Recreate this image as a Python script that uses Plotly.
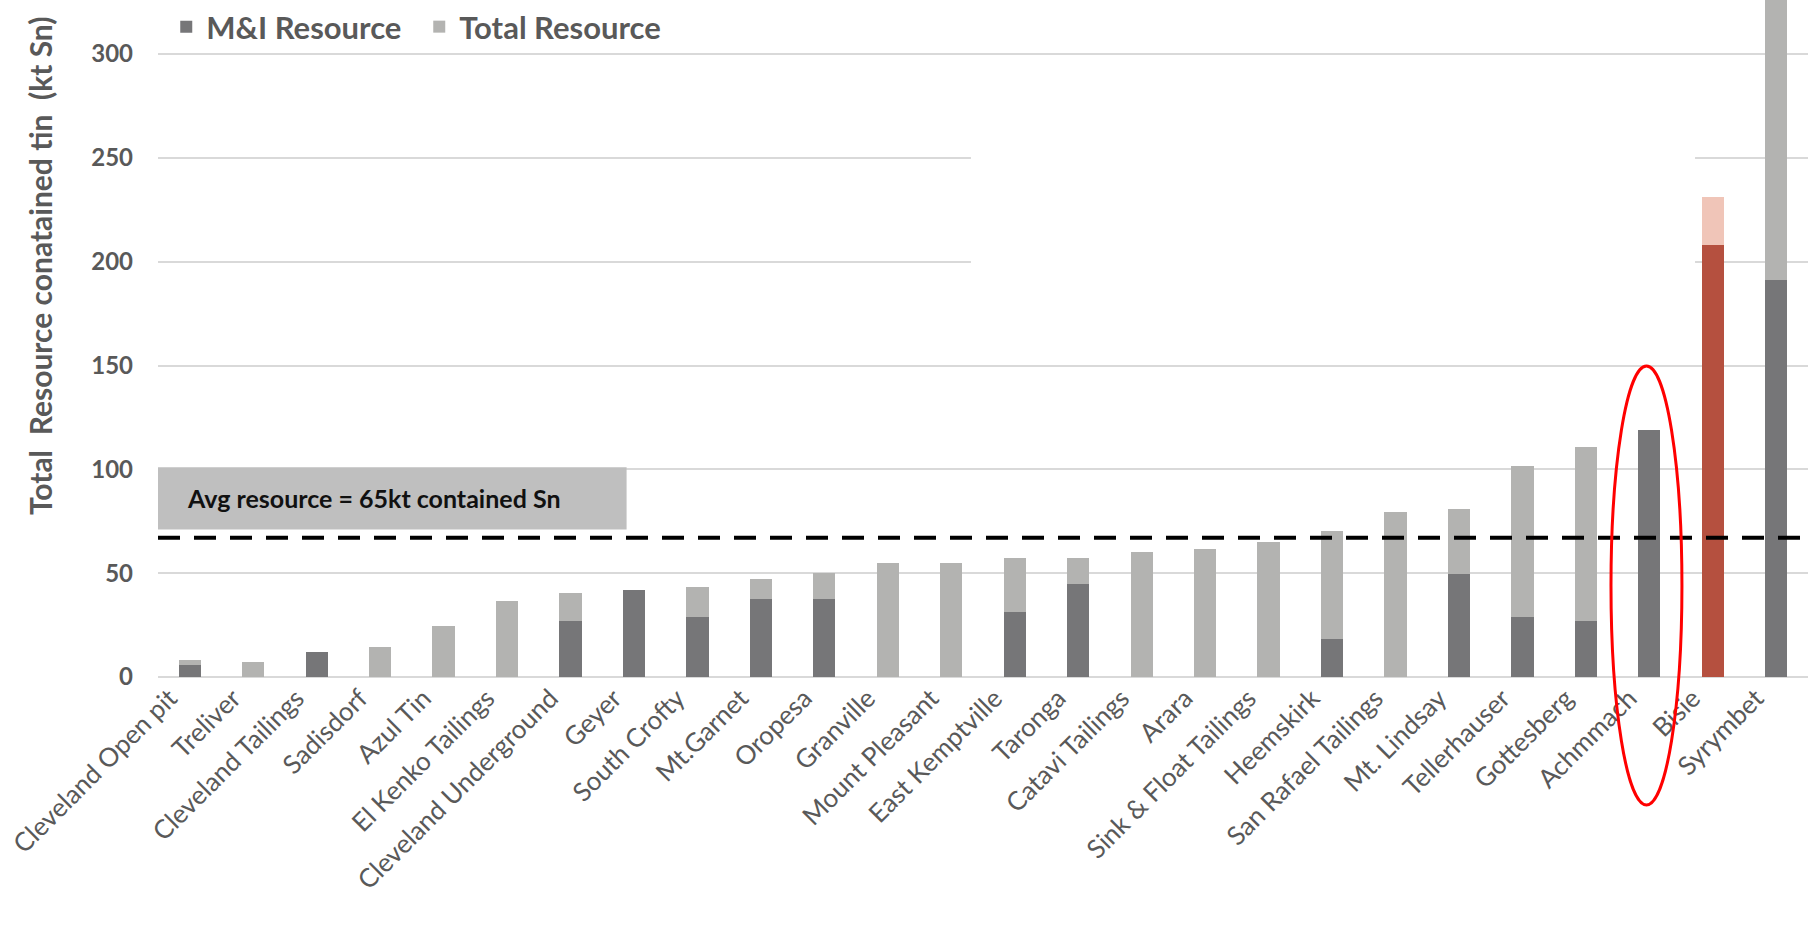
import plotly.graph_objects as go

projects = ["Cleveland Open pit", "Treliver", "Cleveland Tailings", "Sadisdorf", "Azul Tin",
            "El Kenko Tailings", "Cleveland Underground", "Geyer", "South Crofty", "Mt.Garnet",
            "Oropesa", "Granville", "Mount Pleasant", "East Kemptville", "Taronga",
            "Catavi Tailings", "Arara", "Sink & Float Tailings", "Heemskirk", "San Rafael Tailings",
            "Mt. Lindsay", "Tellerhauser", "Gottesberg", "Achmmach", "Bisie", "Syrymbet"]
mi_resource = [6, 0, 12, 0, 0, 0, 27, 42, 29, 37.5, 37.5, 0, 0, 31.5, 45,
               0, 0, 0, 18.5, 0, 49.5, 29, 27, 119, 208, 191]
total_resource = [8, 7, 12, 14.5, 24.7, 36.5, 40.6, 42, 43.3, 47, 50, 54.7, 54.7, 57.1, 57.1,
                  60.2, 61.5, 65.2, 70.5, 79.6, 81, 101.6, 110.6, 119, 231, 335]
avg_resource = 67
highlight = "Bisie"

DARK, LIGHT = "#767678", "#b3b3b1"
RED_DARK, RED_LIGHT = "#b5503f", "#f0c5b8"
TXT = "#595959"

remainder = [t - m for t, m in zip(total_resource, mi_resource)]
mi_colors = [RED_DARK if p == highlight else DARK for p in projects]
rem_colors = [RED_LIGHT if p == highlight else LIGHT for p in projects]

fig = go.Figure()
fig.add_trace(go.Bar(x=projects, y=mi_resource, name="M&I Resource",
                     marker=dict(color=mi_colors, line=dict(width=0))))
fig.add_trace(go.Bar(x=projects, y=remainder, name="Total Resource",
                     marker=dict(color=rem_colors, line=dict(width=0))))

# average box + label
fig.add_shape(type="rect", xref="paper", yref="y", x0=0, x1=0.284, y0=71, y1=101,
              fillcolor="#bfbfbf", line=dict(width=0), layer="above")
fig.add_annotation(xref="paper", yref="y", x=0.0164, y=86, xanchor="left", yanchor="middle",
                   text="<b>Avg resource = 65kt contained Sn</b>", showarrow=False,
                   font=dict(family="Lato", size=25, color="#111111"))

# average line
fig.add_shape(type="line", xref="paper", yref="y", x0=0, x1=1, y0=avg_resource, y1=avg_resource,
              line=dict(color="black", width=4, dash="22px,14px"), layer="above")

# red ellipse around Achmmach
fig.add_shape(type="circle", xref="paper", yref="paper", x0=0.8806, x1=0.9236, y0=-0.189, y1=0.4594,
              line=dict(color="#ff0000", width=3), layer="above")

# white gap in gridlines (as in source image)
fig.add_shape(type="rect", xref="x", yref="y", x0=12.31, x1=23.72, y0=170, y1=290,
              fillcolor="white", line=dict(width=0), layer="between")

# y-axis title
fig.add_annotation(xref="paper", yref="paper", x=-0.0715, y=0.607, textangle=-90,
                   xanchor="center", yanchor="middle",
                   text="<b>Total  Resource conatained tin  (kt Sn)</b>", showarrow=False,
                   font=dict(family="Lato", size=30, color=TXT))

fig.update_layout(
    width=1812, height=932,
    margin=dict(l=158, r=4, t=0, b=255),
    barmode="stack", bargap=0.65,
    plot_bgcolor="white", paper_bgcolor="white",
    font=dict(family="Lato", color=TXT),
    showlegend=True,
    legend=dict(orientation="h", x=0.005, y=1.0, xanchor="left", yanchor="top",
                traceorder="normal", entrywidth=208, entrywidthmode="pixels",
                font=dict(family="Lato", size=31, color=TXT, weight="bold"),
                bgcolor="rgba(0,0,0,0)", itemclick=False),
    xaxis=dict(tickangle=-45, tickfont=dict(family="Lato", size=26, color=TXT),
               showgrid=False, showline=False, ticks="", ticklabelshift=-20),
    yaxis=dict(range=[0, 326], tickvals=[0, 50, 100, 150, 200, 250, 300],
               tickfont=dict(family="Lato", size=24, color=TXT, weight="bold"),
               showgrid=True, gridcolor="#d9d9d9", gridwidth=2,
               zeroline=True, zerolinecolor="#d9d9d9", zerolinewidth=2,
               showline=False, ticks="", ticklabelstandoff=24),
)

fig.write_html("out.html")
